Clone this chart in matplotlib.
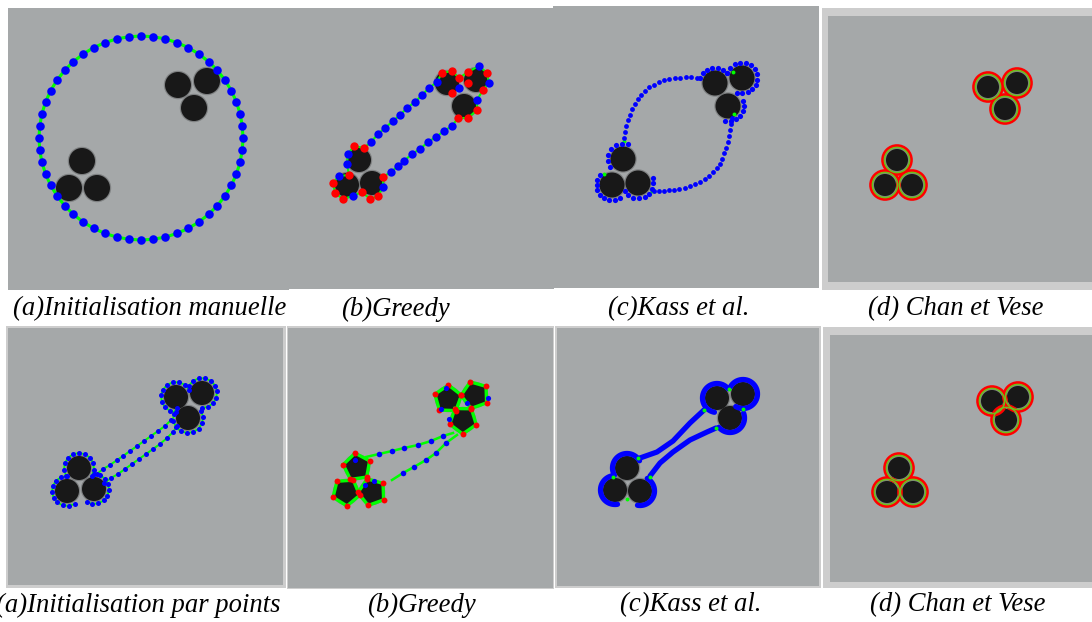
import numpy as np
import matplotlib.pyplot as plt
from matplotlib.patches import Circle, Rectangle

BG = '#a5a8a9'
EDGE = '#cdcdcd'
DISC = '#181818'
BLUE = '#0000ff'
GREEN = '#00ff00'
RED = '#ff0000'
COLORS = {'b': BLUE, 'r': RED}

# image frames in pixel coordinates: (x0, y0, x1, y1), border frame or None
frames = [
    ((8, 8, 289, 290), None),
    ((288, 8, 554, 289), None),
    ((553, 6, 819, 288), None),
    ((828, 16, 1092, 282), (822, 8, 1092, 290)),
    ((8, 328, 283, 585), (6, 326, 286, 588)),
    ((288, 328, 553, 588), (287, 326, 554, 589)),
    ((557, 328, 819, 586), (555, 326, 821, 588)),
    ((830, 335, 1092, 582), (823, 327, 1092, 588)),
]

captions_top = ["(a)Initialisation manuelle", "(b)Greedy", "(c)Kass et al.", "(d) Chan et Vese"]
captions_top_x = [150, 395, 679, 956]
captions_bottom = ["(a)Initialisation par points", "(b)Greedy", "(c)Kass et al.", "(d) Chan et Vese"]
captions_bottom_x = [138, 421, 691, 958]

# disc centres, one list per panel
discs = [
    [(178, 85), (207, 81), (194, 108), (82, 161), (69, 188), (97, 188)],
    [(447, 83), (476, 80), (464, 106), (359, 160), (347, 185), (372, 183)],
    [(715, 83), (742, 78), (728, 106), (623, 159), (612, 185), (638, 183)],
    [(988, 87), (1017, 83), (1005, 109), (897, 160), (885, 185), (912, 185)],
    [(176, 397), (202, 393), (188, 418), (79, 468), (67, 491), (94, 489)],
    [(448, 399), (475, 395), (463, 420), (357, 467), (346, 492), (372, 492)],
    [(717, 398), (743, 394), (730, 418), (627, 468), (615, 490), (640, 491)],
    [(992, 401), (1018, 397), (1006, 420), (899, 468), (887, 492), (913, 492)],
]
disc_r = [13, 12, 12.5, 11, 12, 12, 12, 11]

# manual circular initialisation
init_centre = (141, 138)
init_radius = 102
init_npts = 52

# greedy result, first row: ordered snake points and colour flags
greedy_loop = [
    (371, 142, 'b'), (378, 134, 'b'), (385, 128, 'b'), (393, 121, 'b'), (400, 115, 'b'),
    (407, 108, 'b'), (415, 102, 'b'), (422, 95, 'b'), (429, 88, 'b'), (437, 82, 'b'),
    (442, 73, 'r'), (452, 71, 'r'), (459, 78, 'r'), (468, 72, 'r'), (479, 66, 'b'),
    (487, 73, 'r'), (489, 83, 'b'), (483, 90, 'r'), (477, 100, 'b'), (477, 110, 'r'),
    (468, 118, 'r'), (458, 118, 'r'), (452, 126, 'b'), (444, 131, 'b'), (436, 137, 'b'),
    (428, 142, 'b'), (420, 149, 'b'), (412, 154, 'b'), (404, 161, 'b'), (398, 166, 'b'),
    (391, 172, 'b'), (383, 177, 'r'), (383, 187, 'b'), (378, 196, 'r'), (370, 199, 'r'),
    (362, 192, 'r'), (353, 196, 'b'), (343, 199, 'r'), (335, 193, 'r'), (333, 183, 'r'),
    (339, 176, 'b'), (349, 175, 'r'), (347, 164, 'b'), (348, 154, 'b'), (354, 146, 'r'),
    (364, 148, 'r'),
]
greedy_extra = [(468, 83, 'r'), (459, 88, 'b'), (452, 93, 'r')]

# Kass et al., first row: dots along the two free branches
kass_upper = [
    (697, 78), (691, 77), (686, 77), (680, 78), (675, 78), (669, 79), (664, 80),
    (659, 82), (654, 85), (649, 87), (645, 91), (641, 95), (638, 99), (635, 104),
    (632, 109), (630, 115), (628, 120), (626, 126), (625, 132), (624, 138),
]
kass_lower = [
    (654, 191), (659, 191), (664, 191), (669, 190), (674, 190), (679, 189), (685, 188),
    (690, 186), (695, 184), (700, 182), (705, 179), (709, 176), (713, 172), (717, 168),
    (720, 164), (722, 159), (724, 153), (726, 148), (728, 142), (729, 136), (730, 130),
    (731, 124), (732, 118),
]
# arcs around discs: (disc index, start angle, stop angle, n dots)
kass_arcs = [(0, 200, 320, 7), (1, 200, 470, 14), (2, -20, 100, 7),
             (3, 150, 290, 7), (4, 60, 220, 9), (5, -20, 150, 9)]

# point initialisation, second row
points_arcs = [(0, 90, 330, 11), (1, 210, 450, 11), (2, -30, 220, 11),
               (3, 150, 390, 11), (4, 60, 270, 10), (5, -90, 120, 10)]
points_upper = [(97, 474), (103, 469), (110, 465), (117, 460), (123, 456), (130, 451),
                (137, 446), (144, 441), (151, 436), (158, 431), (165, 426), (171, 420)]
points_lower = [(104, 483), (111, 478), (118, 474), (125, 469), (132, 464), (139, 459),
                (146, 454), (153, 449), (160, 444), (167, 438), (173, 432), (177, 426)]

# greedy, second row: pentagon rotation per disc and free branches
pent_rot = [200, 250, 235, 190, 230, 250]
greedy2_upper = [(366, 457), (379, 454), (392, 451), (404, 448), (418, 445),
                 (431, 441), (443, 436), (453, 433)]
greedy2_lower = [(392, 480), (403, 473), (414, 467), (426, 460), (436, 453),
                 (446, 443), (457, 435)]
greedy2_blue = [(446, 388), (467, 403), (488, 398), (449, 419), (441, 409),
                (365, 485), (374, 481), (355, 460)]

# Kass et al., second row: thick arcs and branches
kass2_arcs = [(0, 100, 320), (1, 210, 480), (2, -20, 140),
              (3, 150, 330), (4, 80, 260), (5, -60, 100)]
kass2_upper = [(640, 458), (657, 452), (673, 441), (690, 423), (704, 410)]
kass2_lower = [(650, 476), (660, 463), (673, 452), (690, 440), (707, 432), (716, 428)]
kass2_green = [(729, 389), (743, 409), (613, 477), (627, 499), (650, 477),
               (704, 410), (716, 428), (638, 458)]


def arc_xy(c, R, a0, a1, n):
    t = np.radians(np.linspace(a0, a1, n))
    return c[0] + R * np.cos(t), c[1] + R * np.sin(t)


fig = plt.figure(figsize=(10.92, 6.22), dpi=100)
ax = fig.add_axes([0, 0, 1, 1])
ax.set_xlim(0, 1092)
ax.set_ylim(622, 0)
ax.axis('off')

for (inner, outer) in frames:
    if outer is not None:
        x0, y0, x1, y1 = outer
        ax.add_patch(Rectangle((x0, y0), x1 - x0, y1 - y0, color=EDGE, lw=0, zorder=0))
    x0, y0, x1, y1 = inner
    ax.add_patch(Rectangle((x0, y0), x1 - x0, y1 - y0, color=BG, lw=0, zorder=1))

for k, centres in enumerate(discs):
    for c in centres:
        ax.add_patch(Circle(c, disc_r[k] + 1.2, color='#5a5c5d', lw=0, alpha=0.5, zorder=2))
        ax.add_patch(Circle(c, disc_r[k], color=DISC, lw=0, zorder=3))

# (a) manual circle
t = np.linspace(0, 2 * np.pi, init_npts, endpoint=False)
cx = init_centre[0] + init_radius * np.cos(t)
cy = init_centre[1] + init_radius * np.sin(t)
ax.plot(np.append(cx, cx[0]), np.append(cy, cy[0]), color=GREEN, lw=2.2, zorder=4)
ax.scatter(cx, cy, s=38, color=BLUE, lw=0, zorder=5)

# (b) greedy, first row
gx = [p[0] for p in greedy_loop]
gy = [p[1] for p in greedy_loop]
ax.plot(gx + [gx[0]], gy + [gy[0]], color=GREEN, lw=1.5, zorder=4)
for px, py, col in greedy_loop + greedy_extra:
    ax.scatter(px, py, s=36, color=COLORS[col], lw=0, zorder=5)

# (c) Kass, first row
for branch in (kass_upper, kass_lower):
    ax.scatter([p[0] for p in branch], [p[1] for p in branch], s=12, color=BLUE, lw=0, zorder=5)
for i, a0, a1, n in kass_arcs:
    x, y = arc_xy(discs[2][i], disc_r[2] + 3, a0, a1, n)
    ax.scatter(x, y, s=14, color=BLUE, lw=0, zorder=5)
for p in [(624, 141), (652, 191), (700, 78), (734, 114), (604, 174), (733, 72)]:
    ax.scatter(*p, s=8, color=GREEN, lw=0, zorder=4)

# (d) Chan-Vese rings, both rows
for k in (3, 7):
    for c in discs[k]:
        ax.add_patch(Circle(c, disc_r[k] + 3.3, fill=False, ec=RED, lw=2.2, zorder=4))
        ax.add_patch(Circle(c, disc_r[k] + 1.6, fill=False, ec='#6fbf1a', lw=1.1, zorder=5))

# (a) point initialisation, second row
for i, a0, a1, n in points_arcs:
    x, y = arc_xy(discs[4][i], disc_r[4] + 3, a0, a1, n)
    ax.plot(x, y, color=GREEN, lw=1.4, zorder=4)
    ax.scatter(x, y, s=13, color=BLUE, lw=0, zorder=5)
for branch in (points_upper, points_lower):
    bx = [p[0] for p in branch]
    by = [p[1] for p in branch]
    ax.plot(bx, by, color=GREEN, lw=1.4, zorder=4)
    ax.scatter(bx, by, s=13, color=BLUE, lw=0, zorder=5)

# (b) greedy, second row
for i, rot in enumerate(pent_rot):
    x, y = arc_xy(discs[5][i], disc_r[5] + 2, rot, rot + 360, 6)
    ax.plot(x, y, color=GREEN, lw=2.4, zorder=4)
    ax.scatter(x[:-1], y[:-1], s=18, color=RED, lw=0, zorder=5)
for branch in (greedy2_upper, greedy2_lower):
    bx = [p[0] for p in branch]
    by = [p[1] for p in branch]
    ax.plot(bx, by, color=GREEN, lw=1.8, zorder=4)
    ax.scatter(bx[1:-1], by[1:-1], s=16, color=BLUE, lw=0, zorder=5)
ax.scatter([p[0] for p in greedy2_blue], [p[1] for p in greedy2_blue], s=14, color=BLUE, lw=0, zorder=5)

# (c) Kass, second row
for i, a0, a1 in kass2_arcs:
    x, y = arc_xy(discs[6][i], disc_r[6] + 2.5, a0, a1, 40)
    ax.plot(x, y, color=BLUE, lw=3.8, solid_capstyle='round', zorder=4)
for branch in (kass2_upper, kass2_lower):
    ax.plot([p[0] for p in branch], [p[1] for p in branch], color=BLUE, lw=3.8,
            solid_capstyle='round', zorder=4)
ax.scatter([p[0] for p in kass2_green], [p[1] for p in kass2_green], s=8, color=GREEN, lw=0, zorder=5)

font = dict(family='Liberation Serif', style='italic', size=19.2, ha='center', va='center')
for label, x in zip(captions_top, captions_top_x):
    ax.text(x, 309, label, **font)
for label, x in zip(captions_bottom, captions_bottom_x):
    ax.text(x, 605, label, **font)

fig.savefig('out.png', dpi=100)
